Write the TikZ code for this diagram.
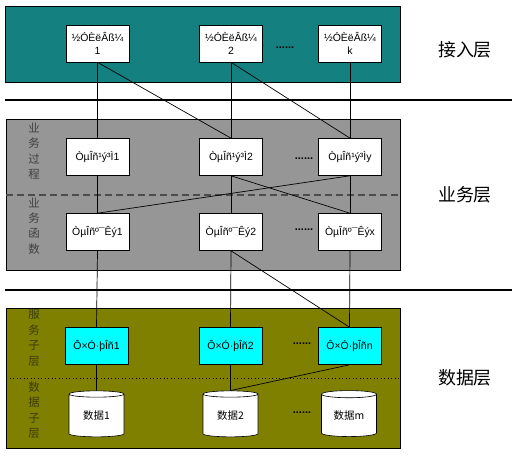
\documentclass[tikz,border=0pt]{standalone}
\usepackage{fontspec}
\setmainfont{Liberation Sans}
\newfontfamily\cjk{Noto Sans CJK SC}
\usetikzlibrary{shapes.geometric}
\definecolor{tealbg}{RGB}{20,128,128}
\definecolor{graybg}{RGB}{150,150,150}
\definecolor{olivebg}{RGB}{128,128,0}
\definecolor{cyanbox}{RGB}{0,255,255}
\definecolor{olivetxt}{RGB}{60,60,10}
\begin{document}
\begin{tikzpicture}[x=1bp,y=-1bp,
  region/.style={draw=black, line width=0.6bp},
  wbox/.style={draw=black, line width=0.6bp, fill=white, minimum width=63bp, minimum height=37bp, inner sep=1bp, align=center, font=\fontsize{10.5}{12.5}\selectfont},
  sbox/.style={wbox, fill=cyanbox},
  dbase/.style={cylinder, shape border rotate=90, aspect=0.22, draw=black, line width=0.6bp, cylinder uses custom fill, cylinder body fill=white, cylinder end fill=white, minimum width=55bp, minimum height=46bp, inner sep=1bp, font=\cjk\fontsize{10.5}{12}\selectfont},
  link/.style={draw=black, line width=0.7bp},
  sep/.style={line width=2.8bp, draw=black},
  dots/.style={font=\bfseries\fontsize{11}{12}\selectfont},
  sidelbl/.style={align=center, font=\cjk\fontsize{11.5}{15.5}\selectfont},
  laylbl/.style={font=\cjk\fontsize{18}{20}\selectfont}
]
\useasboundingbox (0,0) rectangle (527,460);
% regions
\path[region, fill=tealbg] (5,6) rectangle (400,82);
\path[region, fill=graybg] (6,119) rectangle (400,270);
\path[region, fill=olivebg] (6,308) rectangle (400,448);
\draw[black!70, line width=1.4bp, dash pattern=on 7bp off 4bp] (6,195) -- (400,195);
\draw[black, line width=1bp, dash pattern=on 1bp off 2.5bp] (6,378) -- (400,378);
\draw[sep] (5,100) -- (512,100);
\draw[sep] (5,290) -- (512,290);
% side labels
\node[sidelbl, text=black!75] (lp) at (34,151) {业\\务\\过\\程};
\node[sidelbl, text=black!75] (lf) at (34,226) {业\\务\\函\\数};
\node[sidelbl, text=olivetxt] (ls) at (34,338) {服\\务\\子\\层};
\node[sidelbl, text=olivetxt] (ld) at (34,410) {数\\据\\子\\层};
% layer labels
\node[laylbl] (l1) at (465,50) {接入层};
\node[laylbl] (l2) at (465,195) {业务层};
\node[laylbl] (l3) at (465,378) {数据层};
% access
\node[wbox] (a1) at (97.5,43.5) {½ÓÈëÂß¼\\1};
\node[wbox] (a2) at (231,43.5) {½ÓÈëÂß¼\\2};
\node[wbox] (ak) at (350,43.5) {½ÓÈëÂß¼\\k};
% process
\node[wbox] (p1) at (97.5,157) {ÒµÎñ¹ý³Ì1};
\node[wbox] (p2) at (231,157) {ÒµÎñ¹ý³Ì2};
\node[wbox] (py) at (350,157) {ÒµÎñ¹ý³Ìy};
% function
\node[wbox] (f1) at (97.5,232) {ÒµÎñº¯Êý1};
\node[wbox] (f2) at (231,232) {ÒµÎñº¯Êý2};
\node[wbox] (fx) at (350,232) {ÒµÎñº¯Êýx};
% service
\node[sbox] (s1) at (96.5,346) {Ô×Ó·þÎñ1};
\node[sbox] (s2) at (230.5,346) {Ô×Ó·þÎñ2};
\node[sbox] (sn) at (349.5,346) {Ô×Ó·þÎñn};
% data
\node[dbase] (d1) at (96.5,416) {数据1};
\node[dbase] (d2) at (230.5,416) {数据2};
\node[dbase] (dm) at (349,416) {数据m};
% dots
\node[dots] (o1) at (285,48) {......};
\node[dots] (o2) at (304,159) {......};
\node[dots] (o3) at (304,230) {......};
\node[dots] (o4) at (302,344) {......};
\node[dots] (o5) at (302,413) {......};
% links
\draw[link] (a1.south) -- (p1.north);
\draw[link] (a1.south) -- (p2.north);
\draw[link] (a2.south) -- (p2.north);
\draw[link] (a2.south) -- (py.north);
\draw[link] (ak.south) -- (py.north);
\draw[link] (p1.south) -- (f1.north);
\draw[link] (p2.south) -- (f2.north);
\draw[link] (p2.south) -- (fx.north);
\draw[link] (py.south) -- (fx.north);
\draw[link] (py.south) -- (f1.north);
\draw[link] (f1.south) -- (s1.north);
\draw[link] (f2.south) -- (s2.north);
\draw[link] (f2.south) -- (sn.north);
\draw[link] (fx.south) -- (sn.north);
\draw[link] (s1.south) -- (d1.north);
\draw[link] (s2.south) -- (d2.north);
\draw[link] (sn.south) -- (d2.north);
\end{tikzpicture}
\end{document}
